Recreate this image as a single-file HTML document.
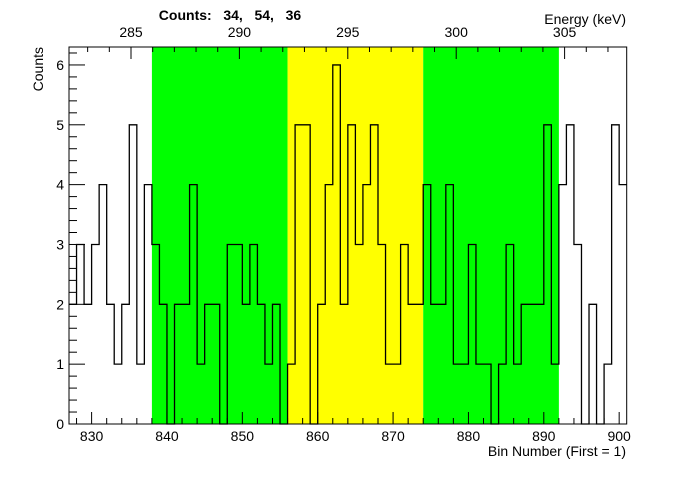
<!DOCTYPE html>
<html><head><meta charset="utf-8"><style>
html,body{margin:0;padding:0;background:#fff;}
svg text{font-family:"Liberation Sans",Arial,sans-serif;fill:#000;}
</style></head><body>
<svg id="chart" width="696" height="472" viewBox="0 0 696 472" xmlns="http://www.w3.org/2000/svg">
<g id="bands"></g>
<g id="hist"></g>
<g id="axes"></g>
<text x="230" y="20" font-size="14" font-weight="bold" text-anchor="middle" xml:space="preserve">Counts:   34,   54,   36</text>
<text x="626" y="24" font-size="14" text-anchor="end">Energy (keV)</text>
<text x="626" y="456" font-size="14" text-anchor="end">Bin Number (First = 1)</text>
<text transform="translate(43,47) rotate(-90)" font-size="14" text-anchor="end">Counts</text>
</svg>
<script>
const binStart = 827;
const counts = [2,3,2,3,4,2,1,2,5,1,4,3,2,0,2,2,4,1,2,2,0,3,3,2,3,2,1,2,0,1,5,5,0,2,4,6,2,5,3,4,5,3,1,1,3,2,2,4,2,2,4,1,1,3,1,1,0,1,3,1,2,2,2,5,1,4,5,3,0,2,0,1,5,4];
const bandStarts = [838,856,874];
const bandEnds = [856,874,892];
const bandColors = ["#00ff00","#ffff00","#00ff00"];
const xTicks = [830,840,850,860,870,880,890,900];
const yTicks = [0,1,2,3,4,5,6];
const energyTicks = [285,290,295,300,305];

const L=69,R=626.7,T=47,B=424,xMin=827,xMax=901,yMax=6.3;
const sx=v=>L+(v-xMin)*(R-L)/(xMax-xMin);
const sy=v=>B-v*(B-T)/yMax;
const E0=285,EX0=131,EPX=21.68;
const ex=e=>EX0+(e-E0)*EPX;
const NS="http://www.w3.org/2000/svg";
function mk(tag,attrs,parent){const e=document.createElementNS(NS,tag);for(const k in attrs)e.setAttribute(k,attrs[k]);parent.appendChild(e);return e;}
const bands=document.getElementById('bands'),hist=document.getElementById('hist'),axes=document.getElementById('axes');
bandStarts.forEach((s,i)=>{
 const r=mk('rect',{x:sx(s),y:T,width:sx(bandEnds[i])-sx(s),height:B-T,fill:bandColors[i]},bands);
 
 
});
let d='M'+L+','+sy(counts[0]);
counts.forEach((c,i)=>{const x0=sx(binStart+i),x1=sx(binStart+i+1);d+=' L'+x0+','+sy(c)+' L'+x1+','+sy(c);});
const p=mk('path',{d:d,fill:'none',stroke:'#000','stroke-width':1.3},hist);


const fr=mk('rect',{x:L,y:T,width:R-L,height:B-T,fill:'none',stroke:'#000','stroke-width':1},axes);


// bottom ticks
for(let v=828;v<=900;v+=2){const maj=v%10===0;mk('line',{x1:sx(v),x2:sx(v),y1:B,y2:B-(maj?12:6),stroke:'#000'},axes);}
xTicks.forEach(v=>{const t=mk('text',{x:sx(v),y:B+17,'font-size':14,'text-anchor':'middle'},axes);t.textContent=v;
 
 });
// left ticks
for(let i=0;i<=31;i++){const v=i*0.2;if(v>yMax)break;const maj=i%5===0;mk('line',{x1:L,x2:L+(maj?16:8),y1:sy(v),y2:sy(v),stroke:'#000'},axes);}
yTicks.forEach(v=>{const t=mk('text',{x:L-5,y:sy(v)+5,'font-size':14,'text-anchor':'end'},axes);t.textContent=v;
 
 });
// top energy axis
for(let e=283;e<=307;e++){const x=ex(e);if(x<L||x>R)continue;const maj=e%5===0;mk('line',{x1:x,x2:x,y1:T,y2:T+(maj?12:5),stroke:'#000'},axes);}
energyTicks.forEach(e=>{const t=mk('text',{x:ex(e),y:T-10,'font-size':14,'text-anchor':'middle'},axes);t.textContent=e;
 
 });
</script>
</body></html>
